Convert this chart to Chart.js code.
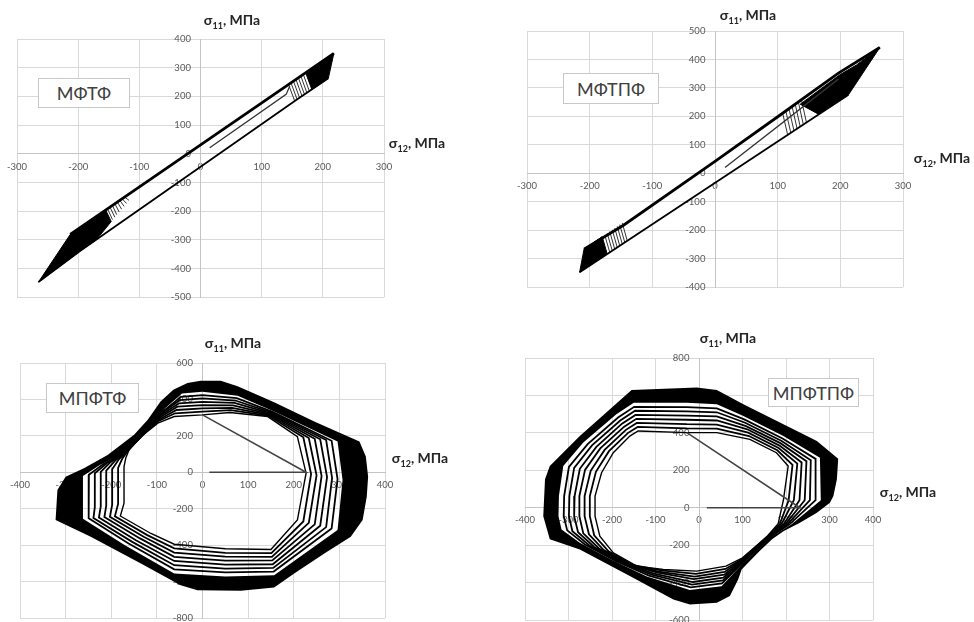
<!DOCTYPE html>
<html>
<head>
<meta charset="utf-8">
<script src="https://cdn.jsdelivr.net/npm/chart.js@4.4.0/dist/chart.umd.min.js"></script>
<style>
  html, body { margin: 0; padding: 0; background: #fff; width: 974px; height: 622px; overflow: hidden; }
  body { position: relative; font-family: Lato, 'Open Sans', sans-serif; }
  canvas { position: absolute; }
  .ttl { position: absolute; transform: translate(-50%, -50%); font-weight: bold; font-size: 14px; color: #262626; white-space: nowrap; line-height: 16px; }
  .ttl sub { font-size: 9px; line-height: 0; }
  .tag { position: absolute; box-sizing: border-box; border: 1px solid #c8c8c8; background: #fff; color: #404040; font-size: 18px; display: flex; align-items: center; justify-content: center; }
</style>
</head>
<body>
<canvas id="c1" width="460" height="310" style="left:0;top:0"></canvas>
<canvas id="c2" width="487" height="300" style="left:487px;top:0"></canvas>
<canvas id="c3" width="460" height="310" style="left:0;top:325px"></canvas>
<canvas id="c4" width="487" height="310" style="left:487px;top:325px"></canvas>

<div class="ttl" style="left:232px;top:20px">σ<sub>11</sub>, МПа</div>
<div class="ttl" style="left:417px;top:143px">σ<sub>12</sub>, МПа</div>
<div class="ttl" style="left:748px;top:15px">σ<sub>11</sub>, МПа</div>
<div class="ttl" style="left:942px;top:158px">σ<sub>12</sub>, МПа</div>
<div class="ttl" style="left:233px;top:343px">σ<sub>11</sub>, МПа</div>
<div class="ttl" style="left:420px;top:458px">σ<sub>12</sub>, МПа</div>
<div class="ttl" style="left:728px;top:338px">σ<sub>11</sub>, МПа</div>
<div class="ttl" style="left:908px;top:492px">σ<sub>12</sub>, МПа</div>

<div class="tag" style="left:38px;top:78px;width:92px;height:30px">МФТФ</div>
<div class="tag" style="left:563px;top:73px;width:96px;height:31px">МФТПФ</div>
<div class="tag" style="left:46px;top:383px;width:93px;height:30px">МПФТФ</div>
<div class="tag" style="left:768px;top:378px;width:91px;height:29px">МПФТПФ</div>

<script>
// ---------- tick labels ----------
const p1XTicks = [-300, -200, -100, 0, 100, 200, 300];
const p1YTicks = [-500, -400, -300, -200, -100, 0, 100, 200, 300, 400];
const p2XTicks = [-300, -200, -100, 0, 100, 200, 300];
const p2YTicks = [-400, -300, -200, -100, 0, 100, 200, 300, 400, 500];
const p3XTicks = [-400, -300, -200, -100, 0, 100, 200, 300, 400];
const p3YTicks = [-800, -600, -400, -200, 0, 200, 400, 600];
const p4XTicks = [-400, -300, -200, -100, 0, 100, 200, 300, 400];
const p4YTicks = [-600, -400, -200, 0, 200, 400, 600, 800];

// ---------- МФТФ (top left) ----------
const p1Upper = [[-213, -281], [218, 350]];
const p1Lower = [[-265, -447], [-197, -339], [157, 188], [209, 263]];
const p1Start = [[15, 21], [140, 207], [146, 236]];
const p1BlackL = [[-265, -447], [-213, -281], [-155, -196], [-146, -236], [-170, -299], [-197, -339], [-265, -447]];
const p1BlackR = [[172, 282], [218, 350], [209, 263], [182, 224], [172, 282]];
const p1HatchL = [
  [[-152, -192], [-144, -229]], [[-148, -186], [-140, -221]], [[-144, -180], [-137, -212]],
  [[-140, -174], [-133, -203]], [[-136, -168], [-129, -193]], [[-132, -162], [-125, -183]],
  [[-128, -157], [-121, -173]], [[-124, -151], [-117, -162]]
];
const p1HatchR = [
  [[144, 241], [154, 184]], [[148, 247], [158, 189]], [[152, 253], [162, 195]],
  [[156, 259], [166, 201]], [[160, 265], [170, 207]], [[164, 271], [174, 212]],
  [[168, 277], [178, 218]]
];

// ---------- МФТПФ (top right) ----------
const p2Upper = [[-209, -266], [-146, -182], [0, 42], [104, 205], [197, 352], [263, 442]];
const p2Lower = [[-216, -347], [213, 276]];
const p2Start = [[16, 21], [197, 331]];
const p2BlackL = [[-216, -347], [-209, -266], [-180, -222], [-172, -283], [-216, -347]];
const p2BlackR = [[136, 243], [199, 346], [226, 381], [263, 442], [213, 276], [165, 208], [136, 243]];
const p2HatchL = [
  [[-176, -216], [-168, -277]], [[-172, -210], [-164, -271]], [[-168, -204], [-160, -266]],
  [[-164, -198], [-156, -260]], [[-160, -192], [-152, -254]], [[-156, -186], [-148, -248]],
  [[-152, -180], [-144, -242]], [[-148, -174], [-140, -237]]
];
const p2HatchR = [
  [[108, 211], [116, 135]], [[113, 219], [121, 142]], [[118, 227], [126, 150]],
  [[123, 235], [131, 157]], [[128, 243], [136, 164]], [[133, 251], [141, 171]],
  [[138, 258], [146, 178]]
];

// ---------- МПФТФ (bottom left) ----------
const p3Start = [[15, 0], [227, 0], [0, 315]];
const p3Loop0 = [[0, 315], [-62, 306], [-98, 270], [-135, 196], [-161, 123], [-168, 80], [-172, 31], [-172, -170], [-180, -240], [-113, -336], [-62, -395], [50, -420], [150, -424], [208, -262], [227, -5], [208, 196], [143, 306], [60, 328], [0, 315]];
const p3Loop1 = [[0, 333], [-60, 324], [-96, 282], [-132, 204], [-163, 120], [-176, 74], [-185, 24], [-185, -174], [-192, -242], [-121, -345], [-62, -418], [50, -442], [151, -444], [221, -270], [238, -10], [221, 192], [145, 310], [62, 341], [0, 333]];
const p3Loop2 = [[0, 351], [-57, 342], [-93, 293], [-129, 211], [-164, 118], [-184, 69], [-198, 16], [-198, -179], [-203, -244], [-129, -354], [-62, -441], [50, -463], [152, -464], [233, -278], [250, -16], [233, 188], [147, 314], [65, 354], [0, 351]];
const p3Loop3 = [[0, 369], [-55, 360], [-91, 305], [-126, 219], [-166, 115], [-192, 63], [-211, 9], [-211, -183], [-215, -246], [-137, -363], [-62, -464], [50, -485], [153, -484], [246, -286], [261, -21], [246, 184], [149, 318], [67, 367], [0, 369]];
const p3Loop4 = [[0, 387], [-52, 378], [-89, 317], [-123, 227], [-167, 113], [-201, 57], [-223, 2], [-223, -187], [-227, -249], [-146, -373], [-62, -487], [50, -507], [154, -505], [258, -293], [273, -26], [258, 181], [151, 322], [70, 381], [0, 387]];
const p3Loop5 = [[0, 406], [-50, 396], [-87, 329], [-120, 235], [-169, 110], [-209, 51], [-236, -5], [-236, -191], [-239, -251], [-154, -382], [-62, -510], [50, -529], [155, -525], [271, -301], [284, -31], [271, 177], [153, 326], [72, 394], [0, 406]];
const p3Loop6 = [[0, 424], [-47, 414], [-84, 340], [-117, 242], [-170, 108], [-217, 46], [-249, -13], [-249, -196], [-250, -253], [-162, -391], [-62, -533], [50, -550], [156, -545], [283, -309], [296, -37], [283, 173], [155, 330], [75, 407], [0, 424]];
const p3BandIn = [[0, 442], [-45, 432], [-82, 352], [-114, 250], [-172, 105], [-225, 40], [-262, -20], [-262, -200], [-262, -255], [-170, -400], [-62, -556], [50, -572], [157, -565], [296, -317], [307, -42], [296, 169], [157, 334], [77, 420], [0, 442]];
const p3BandOut = [[-322, -262], [-318, -97], [-300, -24], [-260, 22], [-208, 95], [-150, 206], [-120, 288], [-92, 389], [-64, 453], [-33, 490], [-4, 503], [40, 503], [77, 472], [157, 384], [245, 279], [303, 215], [344, 169], [358, 86], [363, -24], [360, -134], [351, -262], [325, -354], [267, -446], [201, -556], [157, -633], [84, -651], [-11, -648], [-48, -620], [-135, -501], [-245, -354], [-322, -262]];

// ---------- МПФТПФ (bottom right) ----------
const p4Start = [[18, 0], [232, 0], [-28, 401]];
const p4Loop0 = [[-28, 401], [-140, 410], [-159, 383], [-197, 294], [-224, 187], [-239, 62], [-239, -45], [-228, -152], [-197, -241], [-143, -312], [-82, -330], [-5, -339], [62, -312], [100, -268], [130, -207], [158, -150], [182, -85], [194, 40], [205, 223], [178, 294], [117, 365], [41, 401], [-28, 401]];
const p4Loop1 = [[-28, 424], [-141, 432], [-163, 400], [-207, 302], [-237, 192], [-251, 62], [-251, -45], [-241, -147], [-208, -233], [-151, -307], [-87, -335], [-7, -354], [61, -327], [100, -273], [131, -209], [159, -151], [186, -86], [206, 40], [215, 229], [180, 307], [115, 383], [41, 423], [-28, 424]];
const p4Loop2 = [[-28, 447], [-143, 453], [-168, 416], [-217, 309], [-249, 197], [-263, 62], [-263, -45], [-253, -142], [-219, -226], [-159, -303], [-93, -341], [-10, -368], [59, -343], [100, -277], [132, -211], [160, -153], [190, -87], [218, 40], [226, 236], [183, 319], [113, 401], [41, 444], [-28, 447]];
const p4Loop3 = [[-28, 470], [-144, 475], [-172, 433], [-227, 317], [-262, 202], [-275, 62], [-275, -45], [-266, -137], [-230, -218], [-167, -298], [-98, -346], [-12, -382], [58, -358], [100, -282], [133, -213], [161, -154], [195, -87], [231, 40], [236, 242], [185, 332], [111, 419], [41, 466], [-28, 470]];
const p4Loop4 = [[-28, 492], [-146, 496], [-177, 449], [-236, 325], [-274, 208], [-286, 62], [-287, -45], [-278, -131], [-241, -210], [-176, -293], [-104, -352], [-14, -397], [56, -374], [100, -286], [133, -216], [162, -155], [199, -88], [243, 40], [247, 248], [187, 345], [108, 436], [41, 488], [-28, 492]];
const p4Loop5 = [[-28, 515], [-147, 518], [-181, 466], [-246, 333], [-287, 213], [-298, 62], [-299, -45], [-291, -126], [-252, -202], [-184, -288], [-109, -357], [-16, -411], [55, -389], [100, -291], [134, -218], [163, -156], [203, -89], [255, 40], [257, 254], [189, 358], [106, 454], [41, 510], [-28, 515]];
const p4Loop6 = [[-28, 538], [-149, 539], [-186, 482], [-256, 340], [-299, 218], [-310, 62], [-311, -45], [-303, -121], [-263, -195], [-192, -284], [-115, -363], [-19, -426], [53, -405], [100, -295], [135, -220], [164, -157], [208, -89], [268, 40], [268, 261], [192, 370], [104, 472], [41, 531], [-28, 538]];
const p4BandIn = [[-28, 561], [-150, 561], [-190, 499], [-266, 348], [-312, 223], [-322, 62], [-323, -45], [-316, -116], [-274, -187], [-200, -279], [-120, -368], [-21, -440], [52, -420], [100, -300], [136, -222], [165, -158], [212, -90], [280, 40], [278, 267], [194, 383], [102, 490], [41, 553], [-28, 561]];
const p4BandOut = [[-155, 629], [-5, 642], [41, 629], [102, 553], [194, 446], [271, 357], [320, 262], [317, 152], [309, 62], [301, 27], [271, -27], [232, -80], [195, -125], [168, -168], [140, -230], [113, -294], [98, -330], [90, -383], [71, -472], [41, -508], [-21, -517], [-59, -490], [-159, -365], [-274, -223], [-343, -169], [-358, -45], [-354, 152], [-343, 223], [-274, 383], [-155, 629]];

// ---------- helpers ----------
const pts = a => a.map(p => ({ x: p[0], y: p[1] }));

function line(a, w, color, order) {
  return { data: pts(a), showLine: true, borderColor: color || '#000', borderWidth: w,
           pointRadius: 0, fill: false, tension: 0, order: order || 2 };
}
function patch(a, edge) {
  return { data: pts(a), showLine: true, borderColor: edge === false ? 'rgba(0,0,0,0)' : '#000',
           borderWidth: edge === false ? 0 : 1, backgroundColor: '#000',
           pointRadius: 0, fill: 'shape', tension: 0, order: 3 };
}
// outer edge + inner edge as one closed ring (no stroke, or the seam would show)
const ring = (outer, inner) => patch(outer.concat(inner), false);

function axis(t, pos, isY) {
  return {
    type: 'linear', min: t[0], max: t[t.length - 1], position: pos,
    afterBuildTicks: s => { s.ticks = t.map(v => ({ value: v })); },
    grid: { color: '#d9d9d9', lineWidth: 1, drawTicks: false },
    border: { color: '#c4c4c4', width: 1 },
    ticks: {
      color: '#595959', font: { family: 'Lato', size: 9.5 }, padding: 7, autoSkip: false, maxRotation: 0,
      // y labels sit right on the axis line otherwise
      callback: v => isY ? v + '\u2002  ' : String(v)
    }
  };
}

function makeChart(id, xt, yt, pad, datasets) {
  new Chart(document.getElementById(id), {
    type: 'scatter',
    data: { datasets },
    options: {
      responsive: false, animation: false, events: [],
      layout: { padding: pad },
      plugins: { legend: { display: false }, tooltip: { enabled: false } },
      scales: { x: axis(xt, { y: 0 }, false), y: axis(yt, { x: 0 }, true) }
    }
  });
}

/* ------------------ 1. МФТФ ------------------ */
makeChart('c1', p1XTicks, p1YTicks, { left: 17, right: 76, top: 39, bottom: 12 }, [
  line(p1Start, 1.3, '#333', 1),
  line(p1Upper, 2.8),
  line(p1Lower, 1.8),
  ...p1HatchL.map(s => line(s, 0.8)),
  ...p1HatchR.map(s => line(s, 0.8)),
  patch(p1BlackL),
  patch(p1BlackR)
]);

/* ------------------ 2. МФТПФ ------------------ */
makeChart('c2', p2XTicks, p2YTicks, { left: 40, right: 71, top: 31, bottom: 11 }, [
  line(p2Start, 1.3, '#333', 1),
  line(p2Upper, 2.8),
  line(p2Lower, 1.8),
  ...p2HatchL.map(s => line(s, 0.8)),
  ...p2HatchR.map(s => line(s, 0.8)),
  patch(p2BlackL),
  patch(p2BlackR)
]);

/* ------------------ 3. МПФТФ ------------------ */
makeChart('c3', p3XTicks, p3YTicks, { left: 20, right: 75, top: 38, bottom: 17 }, [
  line(p3Start, 1.6, '#444', 1),
  line(p3Loop0, 1.4),
  line(p3Loop1, 1.8), line(p3Loop2, 1.8), line(p3Loop3, 1.8),
  line(p3Loop4, 1.8), line(p3Loop5, 1.8), line(p3Loop6, 1.8),
  ring(p3BandOut, p3BandIn)
]);

/* ------------------ 4. МПФТПФ ------------------ */
makeChart('c4', p4XTicks, p4YTicks, { left: 38, right: 101, top: 33, bottom: 15 }, [
  line(p4Start, 1.6, '#444', 1),
  line(p4Loop0, 1.4),
  line(p4Loop1, 1.8), line(p4Loop2, 1.8), line(p4Loop3, 1.8),
  line(p4Loop4, 1.8), line(p4Loop5, 1.8), line(p4Loop6, 1.8),
  ring(p4BandOut, p4BandIn)
]);
</script>
</body>
</html>
